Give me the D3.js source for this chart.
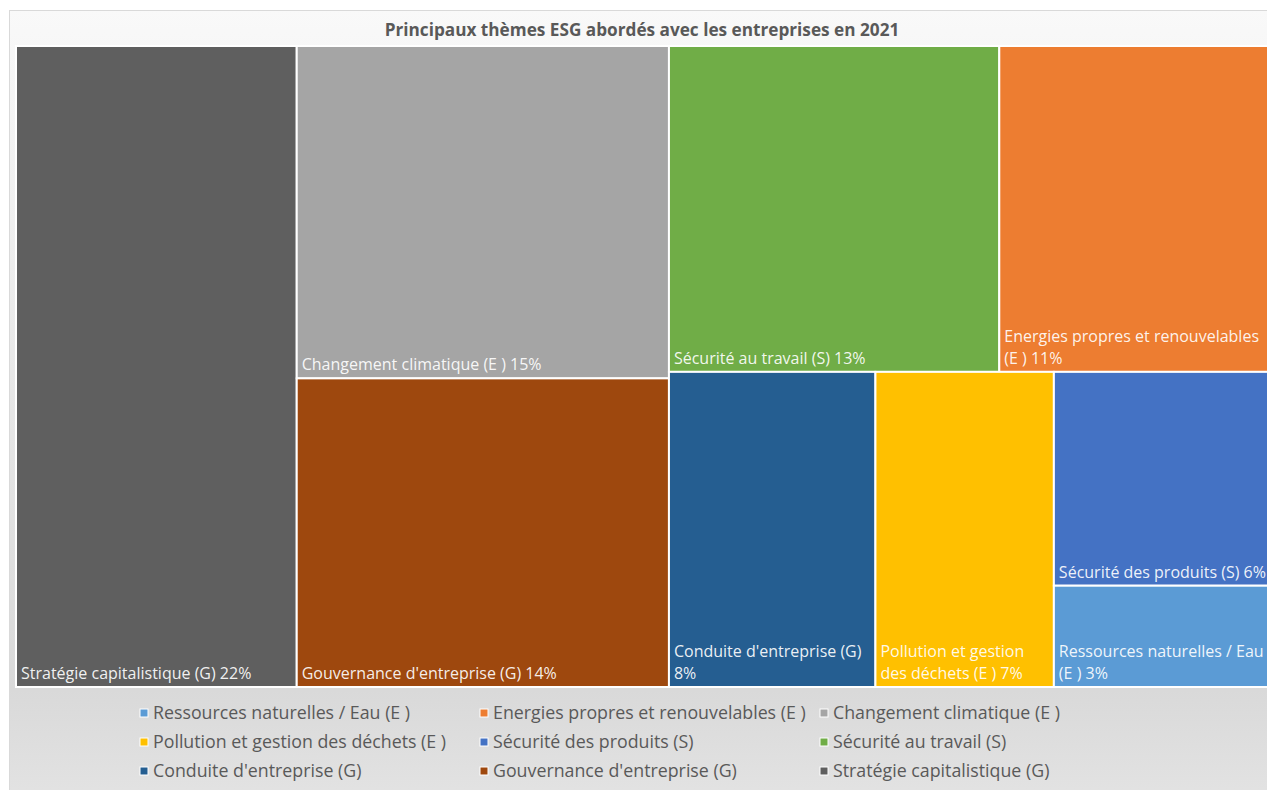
<!DOCTYPE html>
<html>
<head>
<meta charset="utf-8">
<script src="https://cdn.jsdelivr.net/npm/d3@7"></script>
<style>
  body { margin: 0; background: #fff; }
  svg { display: block; font-family: "Open Sans", Lato, sans-serif; }
</style>
</head>
<body>
<svg id="chart"></svg>
<script>
// themes, in drawing order
const categories = [
  "Stratégie capitalistique (G)",
  "Changement climatique (E )",
  "Gouvernance d'entreprise (G)",
  "Sécurité au travail (S)",
  "Energies propres et renouvelables (E )",
  "Conduite d'entreprise (G)",
  "Pollution et gestion des déchets (E )",
  "Sécurité des produits (S)",
  "Ressources naturelles / Eau (E )"
];
// share of discussions (%), estimated from the tile areas
const shares = [22.4, 15.4, 14.3, 13.4, 10.9, 8.1, 7.0, 5.7, 2.7];
const colors = ["#5f5f5f", "#a5a5a5", "#9e480e", "#70ad47", "#ed7d31",
                "#255e91", "#ffc000", "#4472c4", "#5b9bd5"];
// how excel grouped the tiles (indices into categories)
const groups = [0, [1, 2], [[3, 4], [5, 6, [7, 8]]]];
// legend reads row by row
const legendOrder = [8, 4, 1, 6, 7, 3, 5, 2, 0];

const W = 1267, H = 790;
const plot = {x0: 16, y0: 46, x1: 1268, y1: 687};

const svg = d3.select("#chart").attr("width", W).attr("height", H);

const grad = svg.append("defs").append("linearGradient")
  .attr("id", "bg").attr("x1", 0).attr("x2", 0).attr("y1", 0).attr("y2", 1);
grad.append("stop").attr("offset", "0%").attr("stop-color", "#f9f9f9");
grad.append("stop").attr("offset", "86%").attr("stop-color", "#d9d9d9");
grad.append("stop").attr("offset", "100%").attr("stop-color", "#e3e3e3");

svg.append("rect")
  .attr("x", 9.5).attr("y", 10.5).attr("width", W + 10).attr("height", H)
  .attr("fill", "url(#bg)").attr("stroke", "#d9d9d9");

svg.append("text")
  .attr("x", 642).attr("y", 36)
  .attr("text-anchor", "middle")
  .attr("font-size", 17.2).attr("font-weight", "bold")
  .attr("fill", "#595959")
  .text("Principaux thèmes ESG abordés avec les entreprises en 2021");

function build(g) {
  if (Array.isArray(g)) return {children: g.map(build)};
  return {i: g, name: categories[g], value: shares[g]};
}

const root = d3.hierarchy(build(groups)).sum(d => d.value || 0);

d3.treemap()
  .tile(d3.treemapSliceDice)
  .size([plot.x1 - plot.x0, plot.y1 - plot.y0])
  .round(false)(root);

const fmt = d => Math.round(d) + "%";

const cells = svg.append("g")
  .attr("transform", `translate(${plot.x0},${plot.y0})`)
  .selectAll("g")
  .data(root.leaves())
  .join("g")
  .attr("transform", d => `translate(${d.x0},${d.y0})`);

cells.append("rect")
  .attr("width", d => d.x1 - d.x0)
  .attr("height", d => d.y1 - d.y0)
  .attr("fill", d => colors[d.data.i])
  .attr("stroke", "#fff")
  .attr("stroke-width", 2);

cells.each(function(d) {
  const g = d3.select(this);
  const maxW = d.x1 - d.x0 - 6;
  // keep "(E )" together
  const words = (d.data.name + " " + fmt(d.data.value)).split(/ (?!\))/);
  const t = g.append("text")
    .attr("font-size", 16)
    .attr("fill", "#fff")
    .attr("fill-opacity", 0.92);
  // simple word wrap
  let lines = [], cur = [];
  const probe = t.append("tspan");
  words.forEach(w => {
    const test = cur.concat(w).join(" ");
    probe.text(test);
    if (probe.node().getComputedTextLength() > maxW && cur.length) {
      lines.push(cur.join(" "));
      cur = [w];
    } else cur.push(w);
  });
  lines.push(cur.join(" "));
  probe.remove();
  const h = d.y1 - d.y0;
  t.selectAll("tspan")
    .data(lines)
    .join("tspan")
    .attr("x", 5)
    .attr("y", (l, k) => h - 8 - (lines.length - 1 - k) * 22)
    .text(l => l);
});

// legend
const legend = svg.append("g")
  .selectAll("g")
  .data(legendOrder)
  .join("g")
  .attr("transform", (d, k) => `translate(${140 + (k % 3) * 340},${713 + Math.floor(k / 3) * 29})`);

legend.append("rect")
  .attr("x", 0).attr("y", -4)
  .attr("width", 8).attr("height", 8)
  .attr("fill", d => colors[d])
  .attr("stroke", "#fff").attr("stroke-width", 1);

legend.append("text")
  .attr("x", 13).attr("y", 6)
  .attr("font-size", 17.8)
  .attr("fill", "#595959")
  .text(d => categories[d]);
</script>
</body>
</html>
